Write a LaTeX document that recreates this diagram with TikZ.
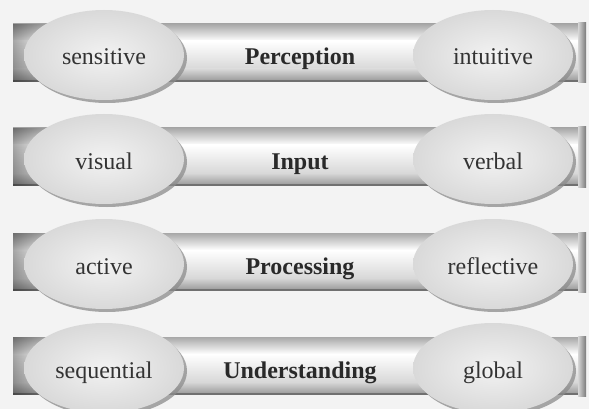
\documentclass[tikz,border=0pt]{standalone}
\usepackage{fontspec}
\setmainfont{Liberation Serif}
\usetikzlibrary{shapes.geometric,shadows,fadings}
\definecolor{bgc}{HTML}{F3F3F3}
\definecolor{barA}{HTML}{A8A8A8}
\definecolor{barB}{HTML}{D8D8D8}
\definecolor{barC}{HTML}{9E9E9E}
\definecolor{barD}{HTML}{707070}
\definecolor{capL}{HTML}{D6D6D6}
\definecolor{capR}{HTML}{7A7A7A}
\definecolor{ellIn}{HTML}{F2F2F2}
\definecolor{ellOut}{HTML}{D9D9D9}
\definecolor{txt}{HTML}{333333}
\definecolor{shd}{HTML}{8C8C8C}
\tikzset{
  ell/.style={ellipse, minimum width=160pt, minimum height=90pt, inner sep=0pt,
    shading=radial, inner color=ellIn, outer color=ellOut,
    drop shadow={shadow xshift=3pt, shadow yshift=-3pt, fill=shd, opacity=0.75},
    text=txt, font=\fontsize{24}{28}\selectfont, text height=20pt, text depth=0pt},
  lab/.style={text=txt!80!black, font=\fontsize{24}{28}\selectfont\bfseries, inner sep=0pt,
    text height=20pt, text depth=0pt}
}
\begin{document}
\begin{tikzpicture}[x=1pt,y=-1pt]
\fill[bgc] (0,0) rectangle (589,409);
\useasboundingbox (0,0) rectangle (589,409);
\foreach \cy/\a/\b/\c/\i in {55/sensitive/Perception/intuitive/1,
                             159/visual/Input/verbal/2,
                             264/active/Processing/reflective/3,
                             368/sequential/Understanding/global/4}{
  % bar
  \shade[top color=barA, bottom color=white] (13,\cy-31) rectangle (578,\cy-14);
  \shade[top color=white, bottom color=barB] (13,\cy-14) rectangle (578,\cy+14);
  \shade[top color=barB, bottom color=barC] (13,\cy+14) rectangle (578,\cy+25);
  \fill[barD] (13,\cy+25) rectangle (578,\cy+27);
  \fill[black, fill opacity=0.35, path fading=east] (13,\cy-31) rectangle (50,\cy+27);
  \shade[left color=capL, right color=capR] (578,\cy-32) rectangle (586,\cy+28);
  % ellipses and label
  \node[ell] (l\i) at (104,\cy) {\a};
  \node[ell] (r\i) at (493,\cy) {\c};
  \node[lab] (c\i) at (300,\cy) {\b};
}
\end{tikzpicture}
\end{document}
